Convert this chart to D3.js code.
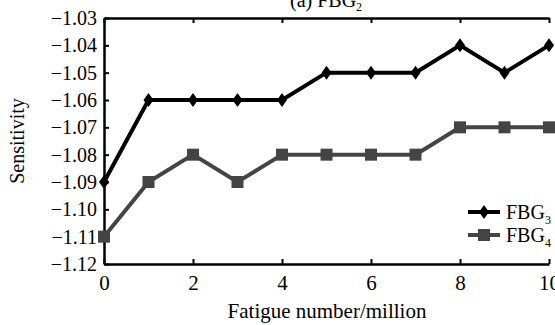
<!DOCTYPE html>
<html>
<head>
<meta charset="utf-8">
<script src="https://cdn.jsdelivr.net/npm/d3@7"></script>
<style>
  body { margin: 0; background: #fff; }
  svg { display: block; font-family: "Liberation Serif", "Times New Roman", serif; }
</style>
</head>
<body>
<div id="chart"></div>
<script>
var fatigue = [0, 1, 2, 3, 4, 5, 6, 7, 8, 9, 10];
var fbg3 = [-1.09, -1.06, -1.06, -1.06, -1.06, -1.05, -1.05, -1.05, -1.04, -1.05, -1.04];
var fbg4 = [-1.11, -1.09, -1.08, -1.09, -1.08, -1.08, -1.08, -1.08, -1.07, -1.07, -1.07];
var xTicks = [0, 2, 4, 6, 8, 10];
var yTicks = [-1.12, -1.11, -1.10, -1.09, -1.08, -1.07, -1.06, -1.05, -1.04, -1.03];

var width = 555, height = 325;
var plotLeft = 104, plotRight = 549, plotTop = 18, plotBottom = 264;
var serif = '"Liberation Serif", "Times New Roman", serif';

var svg = d3.select('#chart').append('svg')
    .attr('width', width)
    .attr('height', height);

var x = d3.scaleLinear().domain([0, 10]).range([plotLeft, plotRight]);
var y = d3.scaleLinear().domain([-1.12, -1.03]).range([plotBottom, plotTop]);

// axes, ticks point inward
var yAxis = d3.axisLeft(y).tickValues(yTicks).tickSizeInner(-5).tickSizeOuter(0)
    .tickPadding(7).tickFormat(d3.format('.2f'));
var gy = svg.append('g').attr('transform', 'translate(' + plotLeft + ',0)').call(yAxis);
gy.attr('font-family', serif).attr('font-size', 20);
gy.selectAll('text').attr('fill', '#000');

var xAxis = d3.axisBottom(x).tickValues(xTicks).tickSizeInner(-5).tickSizeOuter(0).tickPadding(11);
var gx = svg.append('g').attr('transform', 'translate(0,' + plotBottom + ')').call(xAxis);
gx.attr('font-family', serif).attr('font-size', 21);
gx.selectAll('text').attr('fill', '#000');

var xTop = d3.axisTop(x).tickValues(xTicks).tickSizeInner(-5).tickSizeOuter(0).tickFormat('');
var gt = svg.append('g').attr('transform', 'translate(0,' + plotTop + ')').call(xTop);

[gy, gx, gt].forEach(function(g) {
    g.select('.domain').attr('stroke', '#000').attr('stroke-width', 2.5);
    g.selectAll('.tick line').attr('stroke', '#000').attr('stroke-width', 2);
});

// lines
var line = function(vals) {
    return d3.line().x(function(d, i) { return x(fatigue[i]); })
        .y(function(d) { return y(d); })(vals);
};

svg.append('path').attr('d', line(fbg4))
    .attr('fill', 'none').attr('stroke', '#444').attr('stroke-width', 4);
svg.selectAll('rect.fbg4').data(fbg4).enter().append('rect')
    .attr('class', 'fbg4')
    .attr('x', function(d, i) { return x(fatigue[i]) - 6; })
    .attr('y', function(d) { return y(d) - 6; })
    .attr('width', 12).attr('height', 12)
    .attr('fill', '#444');

svg.append('path').attr('d', line(fbg3))
    .attr('fill', 'none').attr('stroke', '#000').attr('stroke-width', 4);
var diamond = 'M0,-7L5,0L0,7L-5,0Z';
svg.selectAll('path.fbg3').data(fbg3).enter().append('path')
    .attr('class', 'fbg3')
    .attr('d', diamond)
    .attr('transform', function(d, i) { return 'translate(' + x(fatigue[i]) + ',' + y(d) + ')'; })
    .attr('fill', '#000');

// legend
var legend = [
    {name: 'FBG', sub: '3', color: '#000', mark: 'diamond', y: 212},
    {name: 'FBG', sub: '4', color: '#444', mark: 'square', y: 235}
];
legend.forEach(function(l) {
    svg.append('line').attr('x1', 468).attr('x2', 500).attr('y1', l.y).attr('y2', l.y)
        .attr('stroke', l.color).attr('stroke-width', 4);
    if (l.mark == 'diamond') {
        svg.append('path').attr('d', diamond).attr('fill', l.color)
            .attr('transform', 'translate(484,' + l.y + ')');
    } else {
        svg.append('rect').attr('x', 478).attr('y', l.y - 6).attr('width', 12).attr('height', 12)
            .attr('fill', l.color);
    }
    var t = svg.append('text').attr('x', 506).attr('y', l.y + 7).style('font-size', '20px');
    t.append('tspan').text(l.name);
    t.append('tspan').attr('dy', 5).style('font-size', '12px').text(l.sub);
});

// labels
var title = svg.append('text').attr('x', 290).attr('y', 7).style('font-size', '20px');
title.append('tspan').text('(a) FBG');
title.append('tspan').attr('dy', 4).style('font-size', '12px').text('2');

svg.append('text').attr('x', 327).attr('y', 318).attr('text-anchor', 'middle')
    .style('font-size', '21px').text('Fatigue number/million');

svg.append('text').attr('transform', 'translate(24,141) rotate(-90)')
    .attr('text-anchor', 'middle').style('font-size', '20px').text('Sensitivity');
</script>
</body>
</html>
